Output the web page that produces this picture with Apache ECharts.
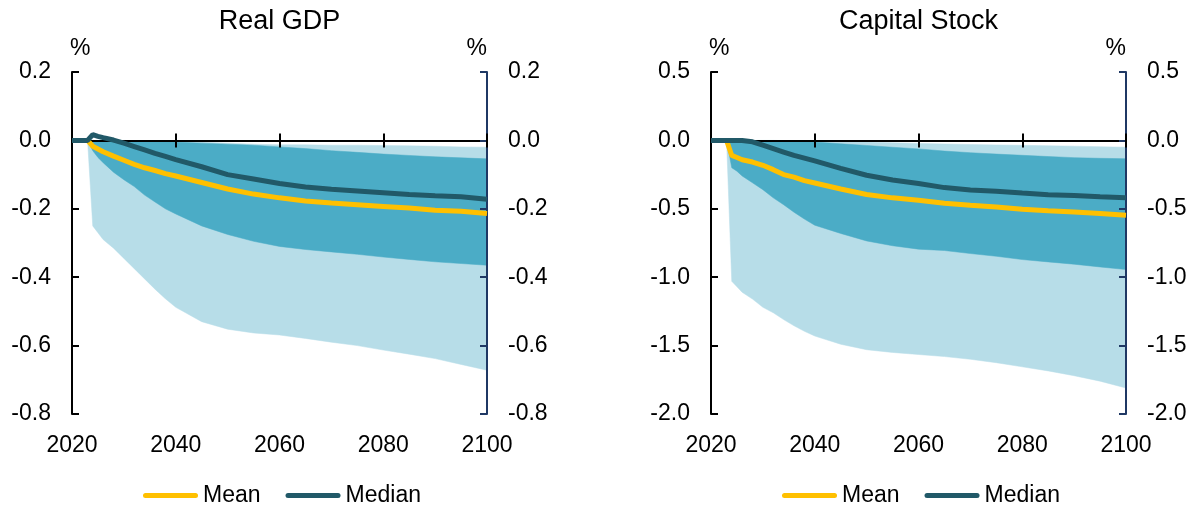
<!DOCTYPE html>
<html>
<head>
<meta charset="utf-8">
<script src="https://cdn.jsdelivr.net/npm/echarts@6/dist/echarts.min.js"></script>
<style>
  html, body { margin: 0; padding: 0; background: #fff; }
  #chart { width: 1198px; height: 508px; }
</style>
</head>
<body>
<div id="chart"></div>
<script>
// Projection years (annual early on, wider steps later)
const years = [2020, 2021, 2022, 2023, 2024, 2025, 2026,
               2028, 2030, 2032, 2034, 2036, 2038, 2040,
               2045, 2050, 2055, 2060, 2065, 2070, 2075, 2080, 2085, 2090, 2095, 2100];

// Real GDP, % deviation
const gdpMean     = [0, 0, 0, 0, -0.017, -0.025, -0.033,
                     -0.046, -0.058, -0.070, -0.080, -0.088, -0.097, -0.104,
                     -0.123, -0.142, -0.157, -0.168, -0.177, -0.183, -0.188, -0.193, -0.198, -0.204, -0.207, -0.214];
const gdpMedian   = [0, 0, 0, 0, 0.017, 0.012, 0.008,
                     0.001, -0.008, -0.018, -0.028, -0.038, -0.047, -0.056,
                     -0.077, -0.100, -0.113, -0.126, -0.136, -0.143, -0.148, -0.153, -0.158, -0.162, -0.165, -0.172];
const gdpInnerUp  = [0, 0, 0, 0, 0, -0.001, -0.001,
                     -0.001, -0.002, -0.002, -0.003, -0.003, -0.004, -0.005,
                     -0.008, -0.011, -0.014, -0.019, -0.024, -0.030, -0.035, -0.040, -0.044, -0.048, -0.051, -0.054];
const gdpInnerLow = [0, 0, 0, 0, -0.030, -0.050, -0.065,
                     -0.093, -0.115, -0.135, -0.160, -0.180, -0.200, -0.215,
                     -0.250, -0.275, -0.295, -0.310, -0.319, -0.326, -0.333, -0.341, -0.348, -0.355, -0.360, -0.365];
const gdpOuterUp  = [0, 0, 0, 0, 0, 0, 0,
                     0, 0, -0.001, -0.001, -0.002, -0.002, -0.003,
                     -0.005, -0.008, -0.011, -0.013, -0.013, -0.014, -0.014, -0.015, -0.016, -0.017, -0.019, -0.020];
const gdpOuterLow = [0, 0, 0, 0, -0.250, -0.270, -0.290,
                     -0.315, -0.345, -0.375, -0.405, -0.435, -0.463, -0.488,
                     -0.530, -0.552, -0.563, -0.569, -0.579, -0.590, -0.600, -0.613, -0.625, -0.638, -0.655, -0.672];

// Capital stock, % deviation
const capMean     = [0, 0, 0, 0, -0.110, -0.125, -0.141,
                     -0.158, -0.182, -0.214, -0.250, -0.269, -0.294, -0.311,
                     -0.355, -0.395, -0.420, -0.437, -0.460, -0.474, -0.487, -0.503, -0.515, -0.523, -0.535, -0.547];
const capMedian   = [0, 0, 0, 0, 0, 0, 0,
                     -0.010, -0.035, -0.060, -0.085, -0.110, -0.130, -0.150,
                     -0.205, -0.255, -0.290, -0.315, -0.345, -0.362, -0.372, -0.385, -0.397, -0.403, -0.412, -0.420];
const capInnerUp  = [0, 0, 0, 0, 0, 0, 0,
                     -0.001, -0.002, -0.003, -0.004, -0.005, -0.008, -0.012,
                     -0.025, -0.037, -0.050, -0.062, -0.078, -0.090, -0.100, -0.109, -0.118, -0.126, -0.131, -0.134];
const capInnerLow = [0, 0, 0, 0, -0.200, -0.225, -0.260,
                     -0.310, -0.360, -0.420, -0.470, -0.525, -0.575, -0.620,
                     -0.680, -0.735, -0.770, -0.795, -0.805, -0.827, -0.847, -0.871, -0.888, -0.905, -0.925, -0.944];
const capOuterUp  = [0, 0, 0, 0, 0, 0, 0,
                     0, 0, 0, -0.001, -0.001, -0.002, -0.003,
                     -0.007, -0.012, -0.017, -0.022, -0.026, -0.030, -0.033, -0.036, -0.039, -0.042, -0.046, -0.050];
const capOuterLow = [0, 0, 0, 0, -1.030, -1.070, -1.110,
                     -1.160, -1.220, -1.260, -1.310, -1.355, -1.395, -1.430,
                     -1.490, -1.530, -1.550, -1.565, -1.580, -1.600, -1.625, -1.655, -1.685, -1.720, -1.760, -1.810];

// Tick labels
const xTicks   = [2020, 2040, 2060, 2080, 2100];
const gdpTicks = [-0.8, -0.6, -0.4, -0.2, 0.0, 0.2];
const capTicks = [-2.0, -1.5, -1.0, -0.5, 0.0, 0.5];

const FONT = '"Liberation Sans", Arial, Helvetica, sans-serif';
const C = {
  outer: '#b7dde8',
  inner: '#4bacc6',
  mean: '#ffc000',
  median: '#215968',
  rightAxis: '#1f3864'
};

const panels = [
  { title: 'Real GDP', ticks: gdpTicks, mean: gdpMean, median: gdpMedian,
    innerUp: gdpInnerUp, innerLow: gdpInnerLow, outerUp: gdpOuterUp, outerLow: gdpOuterLow,
    left: 72, legendLeft: 143 },
  { title: 'Capital Stock', ticks: capTicks, mean: capMean, median: capMedian,
    innerUp: capInnerUp, innerLow: capInnerLow, outerUp: capOuterUp, outerLow: capOuterLow,
    left: 711, legendLeft: 782 }
];

const GRID_W = 415, GRID_H = 342, GRID_TOP = 72;
const xStep = xTicks[1] - xTicks[0];

const option = {
  animation: false,
  textStyle: { fontFamily: FONT },
  grid: [], xAxis: [], yAxis: [], series: [], legend: [], graphic: []
};

const pair = (vals) => years.map((y, k) => [y, vals[k]]);

// Filled range between a lower and an upper bound, drawn as one polygon
// through the axis scales (api.coord).
function bandRenderer(color) {
  return function (params, api) {
    if (params.dataIndexInside !== 0) return null;
    const n = params.dataInsideLength;
    const top = [], bottom = [];
    for (let k = 0; k < n; k++) {
      const x = api.value(0, k);
      top.push(api.coord([x, api.value(2, k)]));
      bottom.push(api.coord([x, api.value(1, k)]));
    }
    return {
      type: 'polygon',
      shape: { points: top.concat(bottom.reverse()) },
      style: { fill: color, stroke: color, lineWidth: 0.5 },
      silent: true
    };
  };
}

panels.forEach((p, i) => {
  const yMin = p.ticks[0];
  const yMax = p.ticks[p.ticks.length - 1];
  const yStep = +(p.ticks[1] - p.ticks[0]).toFixed(3);
  const fmt = (v) => (Math.abs(v) < 1e-9 ? 0 : v).toFixed(1);

  option.grid.push({ left: p.left, top: GRID_TOP, width: GRID_W, height: GRID_H });

  const xBase = { gridIndex: i, type: 'value', min: xTicks[0], max: xTicks[xTicks.length - 1],
                  interval: xStep, splitLine: { show: false } };
  // bottom labels only
  option.xAxis.push(Object.assign({}, xBase, {
    position: 'bottom',
    axisLine: { show: false, onZero: false },
    axisTick: { show: false },
    axisLabel: { fontSize: 23, color: '#000', margin: 20, fontFamily: FONT, formatter: (v) => String(v) }
  }));
  // zero line with upward ticks
  option.xAxis.push(Object.assign({}, xBase, {
    position: 'bottom', z: 3,
    axisLine: { show: true, onZero: true, lineStyle: { color: '#000', width: 2 } },
    axisTick: { show: true, inside: true, length: 7, lineStyle: { color: '#000', width: 2 } },
    axisLabel: { show: false }
  }));
  // downward half of the crossing ticks
  option.xAxis.push(Object.assign({}, xBase, {
    position: 'bottom', z: 3,
    axisLine: { show: false, onZero: true },
    axisTick: { show: true, inside: false, length: 7, lineStyle: { color: '#000', width: 2 } },
    axisLabel: { show: false }
  }));

  const yBase = { gridIndex: i, type: 'value', min: yMin, max: yMax, interval: yStep,
                  splitLine: { show: false }, z: 3,
                  name: '%', nameLocation: 'end', nameGap: 12 };
  option.yAxis.push(Object.assign({}, yBase, {
    position: 'left',
    axisLine: { show: true, onZero: false, lineStyle: { color: '#000', width: 2 } },
    axisTick: { show: true, inside: true, length: 7, lineStyle: { color: '#000', width: 2 } },
    axisLabel: { fontSize: 23, color: '#000', margin: 21, formatter: fmt, fontFamily: FONT },
    nameTextStyle: { fontSize: 23, color: '#000', align: 'left', fontFamily: FONT, padding: [0, 0, 0, -2] }
  }));
  option.yAxis.push(Object.assign({}, yBase, {
    position: 'right',
    axisLine: { show: true, onZero: false, lineStyle: { color: C.rightAxis, width: 2 } },
    axisTick: { show: true, inside: true, length: 7, lineStyle: { color: C.rightAxis, width: 2 } },
    axisLabel: { fontSize: 23, color: '#000', margin: 21, formatter: fmt, fontFamily: FONT },
    nameTextStyle: { fontSize: 23, color: '#000', align: 'right', fontFamily: FONT }
  }));

  const xi = i * 3, yi = i * 2;
  const band = (key, up, low, color) => {
    option.series.push({
      name: key, type: 'custom', xAxisIndex: xi, yAxisIndex: yi,
      data: years.map((y, k) => [y, low[k], up[k]]),
      encode: { x: 0, y: [1, 2] },
      renderItem: bandRenderer(color), silent: true, z: 1
    });
  };
  band('outer' + i, p.outerUp, p.outerLow, C.outer);
  band('inner' + i, p.innerUp, p.innerLow, C.inner);

  option.series.push({
    name: 'Mean', type: 'line', xAxisIndex: xi, yAxisIndex: yi, data: pair(p.mean),
    symbol: 'none', lineStyle: { color: C.mean, width: 5 }, itemStyle: { color: C.mean }, z: 5
  });
  option.series.push({
    name: 'Median', type: 'line', xAxisIndex: xi, yAxisIndex: yi, data: pair(p.median),
    symbol: 'none', lineStyle: { color: C.median, width: 5 }, itemStyle: { color: C.median }, z: 6
  });

  option.legend.push({
    data: ['Mean', 'Median'], left: p.legendLeft, top: 484, orient: 'horizontal', padding: 0,
    icon: 'path://M2.5,0H52.5A2.5,2.5,0,0,1,52.5,5H2.5A2.5,2.5,0,0,1,2.5,0Z',
    itemWidth: 55, itemHeight: 5, itemGap: 25, selectedMode: false,
    textStyle: { fontSize: 23, color: '#000', fontFamily: FONT }
  });

  option.graphic.push({
    type: 'text', x: p.left + GRID_W / 2, y: 22, silent: true,
    style: { text: p.title, fill: '#000', fontSize: 27, fontFamily: FONT,
             align: 'center', verticalAlign: 'middle', textAlign: 'center', textVerticalAlign: 'middle' }
  });
});

const chart = echarts.init(document.getElementById('chart'), null, { renderer: 'canvas' });
chart.setOption(option);
</script>
</body>
</html>
